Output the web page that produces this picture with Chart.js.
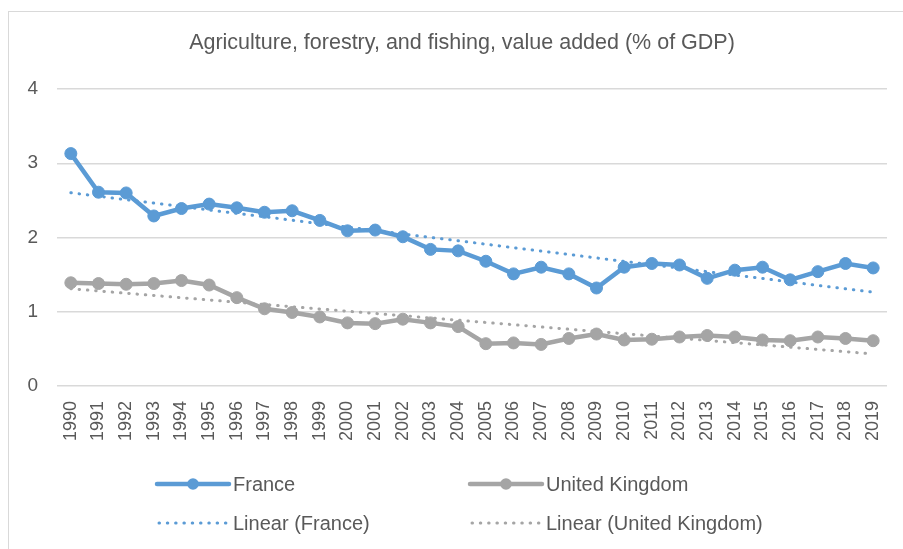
<!DOCTYPE html>
<html>
<head>
<meta charset="utf-8">
<script src="https://cdn.jsdelivr.net/npm/chart.js@4/dist/chart.umd.min.js"></script>
<style>
  html, body { margin: 0; padding: 0; background: #fff; overflow: hidden; }
  #wrap { position: relative; width: 903px; height: 549px; }
  #frame { position: absolute; left: 8px; top: 11px; width: 1000px; height: 700px;
           border: 1px solid #D9D9D9; box-sizing: border-box; }
  canvas { position: absolute; left: 0; top: 0; }
</style>
</head>
<body>
<div id="wrap">
  <div id="frame"></div>
  <canvas id="c" width="903" height="549"></canvas>
</div>
<script>
// Agriculture, forestry and fishing, value added (% of GDP), 1990-2019
const chartTitle = 'Agriculture, forestry, and fishing, value added (% of GDP)';
const years = ['1990','1991','1992','1993','1994','1995','1996','1997','1998','1999',
               '2000','2001','2002','2003','2004','2005','2006','2007','2008','2009',
               '2010','2011','2012','2013','2014','2015','2016','2017','2018','2019'];
const france = [3.13, 2.61, 2.60, 2.29, 2.39, 2.45, 2.40, 2.34, 2.36, 2.23,
                2.09, 2.10, 2.01, 1.84, 1.82, 1.68, 1.51, 1.60, 1.51, 1.32,
                1.60, 1.65, 1.63, 1.45, 1.56, 1.60, 1.43, 1.54, 1.65, 1.59];
const unitedKingdom = [1.39, 1.38, 1.37, 1.38, 1.42, 1.36, 1.19, 1.04, 0.99, 0.93,
                       0.85, 0.84, 0.90, 0.85, 0.80, 0.57, 0.58, 0.56, 0.64, 0.70,
                       0.62, 0.63, 0.66, 0.68, 0.66, 0.62, 0.61, 0.66, 0.64, 0.61];
const yTicks = [0, 1, 2, 3, 4];

// Least-squares trend line over the series
function linearTrend(values) {
  const n = values.length;
  let sx = 0, sy = 0, sxx = 0, sxy = 0;
  values.forEach((v, i) => { sx += i; sy += v; sxx += i * i; sxy += i * v; });
  const slope = (n * sxy - sx * sy) / (n * sxx - sx * sx);
  const icpt = (sy - slope * sx) / n;
  return values.map((_, i) => icpt + slope * i);
}

const BLUE = '#5B9BD5';
const GREY = '#A5A5A5';
const TEXT = '#595959';
const FONT = "'Liberation Sans', Arial, sans-serif";

// Title above the plot, centred on the whole chart frame
const titlePlugin = {
  id: 'frameTitle',
  afterDraw(chart) {
    const ctx = chart.ctx;
    ctx.save();
    ctx.fillStyle = TEXT;
    ctx.font = '21.5px ' + FONT;
    ctx.textAlign = 'center';
    ctx.textBaseline = 'middle';
    ctx.fillText(chartTitle, 462, 43);
    ctx.restore();
  }
};

// Two-column legend underneath the plot
const legendPlugin = {
  id: 'twoColLegend',
  afterDraw(chart) {
    const ctx = chart.ctx;
    const items = [
      { x: 157, y: 484, ds: 0 },
      { x: 470, y: 484, ds: 1 },
      { x: 157, y: 523, ds: 2 },
      { x: 470, y: 523, ds: 3 }
    ];
    ctx.save();
    items.forEach(it => {
      const d = chart.data.datasets[it.ds];
      const len = 72;
      ctx.strokeStyle = d.borderColor;
      ctx.lineWidth = d.borderWidth;
      ctx.lineCap = 'round';
      ctx.setLineDash(d.borderDash || []);
      ctx.beginPath();
      ctx.moveTo(it.x + (d.borderDash ? 2 : 0), it.y);
      ctx.lineTo(it.x + len, it.y);
      ctx.stroke();
      ctx.setLineDash([]);
      if (d.pointRadius > 0) {
        ctx.fillStyle = d.borderColor;
        ctx.beginPath();
        ctx.arc(it.x + len / 2, it.y, 5.8, 0, Math.PI * 2);
        ctx.fill();
      }
      ctx.fillStyle = TEXT;
      ctx.font = '20px ' + FONT;
      ctx.textBaseline = 'middle';
      ctx.textAlign = 'left';
      ctx.fillText(d.label, it.x + len + 4, it.y + 1);
    });
    ctx.restore();
  }
};

new Chart(document.getElementById('c'), {
  type: 'line',
  data: {
    labels: years,
    datasets: [
      { label: 'France', data: france, borderColor: BLUE, backgroundColor: BLUE,
        borderWidth: 4.5, pointRadius: 6, pointBorderWidth: 1, pointBackgroundColor: BLUE,
        pointBorderColor: BLUE, tension: 0, order: 3 },
      { label: 'United Kingdom', data: unitedKingdom, borderColor: GREY, backgroundColor: GREY,
        borderWidth: 4.5, pointRadius: 6, pointBorderWidth: 1, pointBackgroundColor: GREY,
        pointBorderColor: GREY, tension: 0, order: 4 },
      { label: 'Linear (France)', data: linearTrend(france), borderColor: BLUE,
        borderWidth: 3, borderDash: [0.5, 7.8], borderCapStyle: 'round', pointRadius: 0,
        tension: 0, order: 1 },
      { label: 'Linear (United Kingdom)', data: linearTrend(unitedKingdom), borderColor: GREY,
        borderWidth: 3, borderDash: [0.5, 7.8], borderCapStyle: 'round', pointRadius: 0,
        tension: 0, order: 2 }
    ]
  },
  options: {
    responsive: false,
    animation: false,
    layout: { padding: { left: 0, right: 16, top: 89, bottom: 98 } },
    plugins: {
      legend: { display: false },
      tooltip: { enabled: false },
      title: { display: false }
    },
    scales: {
      x: {
        offset: true,
        grid: { display: false, drawTicks: false, offset: true },
        border: { display: false },
        ticks: { color: TEXT, font: { family: FONT, size: 18 }, minRotation: 90, maxRotation: 90,
                 padding: 15, autoSkip: false },
        afterFit(scale) { scale.height = 65; scale.paddingLeft = 0; scale.paddingRight = 0; }
      },
      y: {
        min: 0, max: 4,
        afterBuildTicks(scale) { scale.ticks = yTicks.map(v => ({ value: v })); },
        grid: { color: '#D9D9D9', lineWidth: 1.5, drawTicks: false },
        border: { display: false },
        ticks: { color: TEXT, font: { family: FONT, size: 19 }, padding: 19 },
        afterFit(scale) { scale.width = 57; scale.paddingTop = 0; scale.paddingBottom = 0; }
      }
    }
  },
  plugins: [titlePlugin, legendPlugin]
});
</script>
</body>
</html>
